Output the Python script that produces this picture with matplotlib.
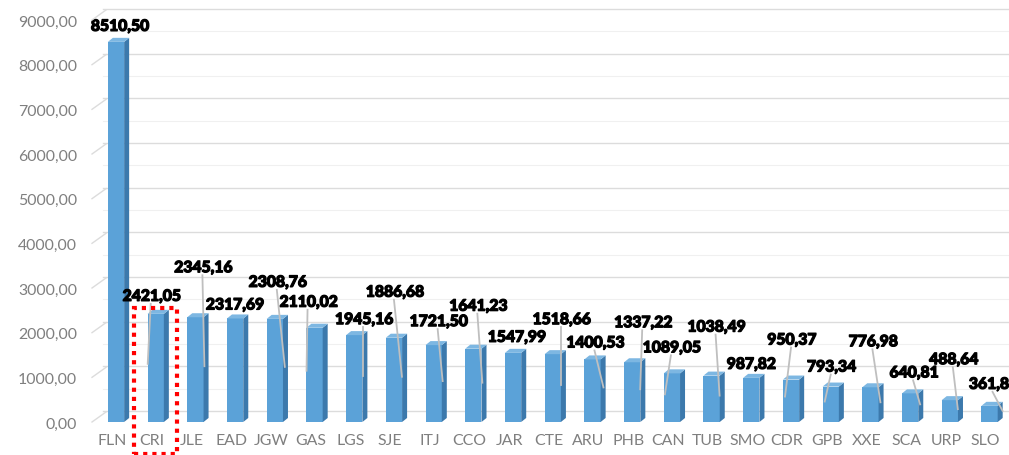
import matplotlib
matplotlib.use("Agg")
import matplotlib.pyplot as plt
import numpy as np
from matplotlib.lines import Line2D
from matplotlib.patches import Rectangle, Polygon
from matplotlib.transforms import IdentityTransform, offset_copy
import matplotlib.patheffects as pe

# ---------------- data ----------------
categories = ["FLN", "CRI", "JLE", "EAD", "JGW", "GAS", "LGS", "SJE", "ITJ", "CCO",
              "JAR", "CTE", "ARU", "PHB", "CAN", "TUB", "SMO", "CDR", "GPB", "XXE",
              "SCA", "URP", "SLO"]
values = [8510.50, 2421.05, 2345.16, 2317.69, 2308.76, 2110.02, 1945.16, 1886.68,
          1721.50, 1641.23, 1547.99, 1518.66, 1400.53, 1337.22, 1089.05, 1038.49,
          987.82, 950.37, 793.34, 776.98, 640.81, 488.64, 361.80]
y_ticks = [0, 1000, 2000, 3000, 4000, 5000, 6000, 7000, 8000, 9000]

# ---------------- layout (pixel offsets of data labels from bar top) ----------------
label_offsets = [(4, 16), (-4, 18), (8, 50), (0, 14), (3, 37), (-6, 26), (10, 16),
                 (1, 46), (5, 24), (5, 43), (4, 16), (9, 35), (3, 17), (11, 40),
                 (0, 26), (5, 49), (0, 14), (1, 40), (1, 20), (3, 46), (4, 21),
                 (4, 41), (4, 22)]
# leader line end (pixel offset from bar top); None = no leader
leader_ends = [None, (-8, -50), (9, -49), None, (10, -48), (-8, -43), (9, -41),
               (8, -39), (9, -36), (9, -34), None, (8, -31), (11, -28), (8, -27),
               (-7, -21), (8, -20), None, (-6, -17), (-6, -15), (10, -15), (10, -11),
               (8, -9), (13, -5)]

W, H, DPI = 1009, 456, 100
fig = plt.figure(figsize=(W / DPI, H / DPI), dpi=DPI)
fig.patch.set_facecolor("white")
ax = fig.add_axes([100 / W, 33 / H, 909 / W, 402 / H])
n = len(categories)
ax.set_xlim(-0.403, n - 1 + 0.49)
ax.set_ylim(0, 9000)
for s in ax.spines.values():
    s.set_visible(False)
ax.patch.set_alpha(0)

tick_font = dict(family="Lato", size=11.4, color="#7f7f7f")
ax.set_yticks(y_ticks)
ax.set_yticklabels([f"{v:.2f}".replace(".", ",") for v in y_ticks], **tick_font)
ax.set_xticks(np.arange(n) - 0.1)
ax.set_xticklabels(categories, **tick_font)
ax.tick_params(axis="y", length=0, pad=16.5)
ax.tick_params(axis="x", length=0, pad=8)

fig.canvas.draw()

def disp(x, y):
    return ax.transData.transform((x, y))

# back-wall gridlines (shifted up for 3D look)
grid_tr = offset_copy(ax.transData, fig=fig, x=0, y=11, units="dots")
x_wall = ax.transData.inverted().transform((103, 0))[0]
for v in range(500, 9000, 1000):
    ax.plot([x_wall, n], [v, v], color="#f0f0f0", lw=0.8, transform=grid_tr,
            clip_on=False, zorder=0)
for v in y_ticks:
    ax.plot([x_wall, n], [v, v], color="#dcdcdc", lw=1.0, transform=grid_tr,
            clip_on=False, zorder=0)
    p = disp(0, v)
    fig.add_artist(Line2D([92, 106], [p[1], p[1] + 10], color="#dcdcdc", lw=1.0,
                          transform=IdentityTransform()))

# 3D bars
w = 0.41
ddx = 0.126
ddy = 90
front_c, side_c, top_c = "#5BA2D8", "#3C79AC", "#7DB7E2"
for i, v in enumerate(values):
    ax.add_patch(Rectangle((i - w / 2, 0), w, v, facecolor=front_c, edgecolor="none", zorder=2))
    ax.add_patch(Polygon([(i + w / 2, 0), (i + w / 2 + ddx, ddy), (i + w / 2 + ddx, v + ddy),
                          (i + w / 2, v)], closed=True, facecolor=side_c, edgecolor="none", zorder=2))
    ax.add_patch(Polygon([(i - w / 2, v), (i - w / 2 + ddx, v + ddy), (i + w / 2 + ddx, v + ddy),
                          (i + w / 2, v)], closed=True, facecolor=top_c, edgecolor="none", zorder=2))

# data labels with leader lines
stroke = [pe.withStroke(linewidth=0.9, foreground="black")]
for i, v in enumerate(values):
    top = disp(i, v)
    dx, dy = label_offsets[i]
    ax.text(top[0] + dx, top[1] + dy, f"{v:.2f}".replace(".", ","),
            transform=IdentityTransform(), ha="center", va="center",
            family="Lato", fontweight="black", size=11.3, color="black", zorder=5,
            clip_on=False, path_effects=stroke)
    if leader_ends[i] is not None:
        ex, ey = leader_ends[i]
        fig.add_artist(Line2D([top[0] + dx - 1, top[0] + ex], [top[1] + dy - 8, top[1] + ey],
                              color="#bfbfbf", lw=1.3, transform=IdentityTransform(),
                              zorder=4))

# red dotted highlight around CRI
c = disp(1, values[1])
x0, x1 = c[0] - 22, c[0] + 21
y1 = c[1] + 6
rect = Rectangle((x0, 1.5), x1 - x0, y1 - 1.5, transform=IdentityTransform(),
                 fill=False, edgecolor="#ff0000", lw=3.0, linestyle=(0, (1.0, 1.2)),
                 capstyle="butt", zorder=6)
fig.add_artist(rect)

fig.savefig("out.png", dpi=DPI)
